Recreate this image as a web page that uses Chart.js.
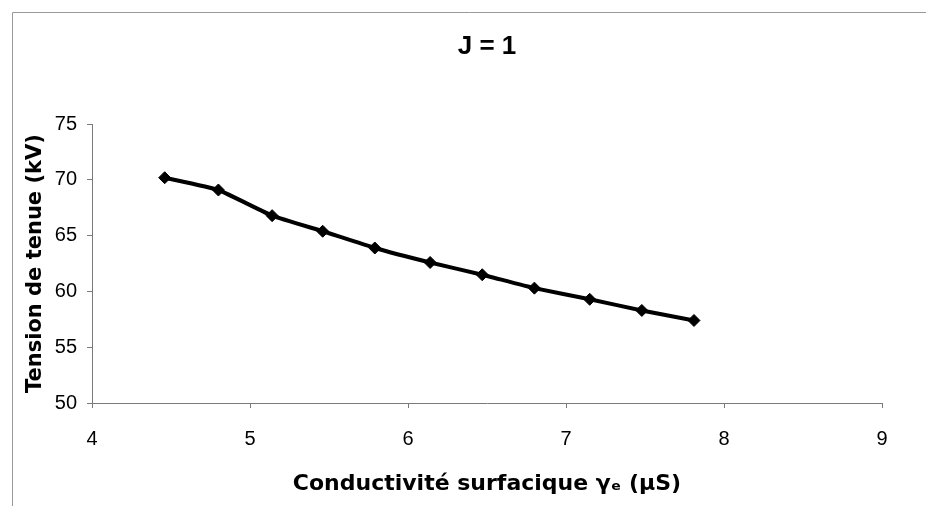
<!DOCTYPE html>
<html>
<head>
<meta charset="utf-8">
<script src="https://cdn.jsdelivr.net/npm/chart.js@4/dist/chart.umd.min.js"></script>
<style>
  html, body { margin: 0; padding: 0; background: #ffffff; }
  canvas { display: block; }
</style>
</head>
<body>
<canvas id="c" width="926" height="506"></canvas>
<script>
// ---- data ----
const chartTitle = "J = 1";
const xTitle = "Conductivité surfacique γₑ (µS)";
const yTitle = "Tension de tenue (kV)";
const conductivity = [4.46, 4.80, 5.14, 5.46, 5.79, 6.14, 6.47, 6.80, 7.15, 7.48, 7.81];
const tension      = [70.2, 69.1, 66.8, 65.4, 63.9, 62.6, 61.5, 60.3, 59.3, 58.3, 57.4];
const xTicks = [4, 5, 6, 7, 8, 9];
const yTicks = [50, 55, 60, 65, 70, 75];

const points = conductivity.map((x, i) => ({ x: x, y: tension[i] }));

const framePlugin = {
  id: 'frame',
  beforeDraw(chart) {
    const ctx = chart.ctx;
    ctx.save();
    ctx.fillStyle = '#ffffff';
    ctx.fillRect(0, 0, chart.width, chart.height);
    ctx.strokeStyle = '#9a9a9a';
    ctx.lineWidth = 1;
    ctx.beginPath();
    ctx.moveTo(12.5, chart.height);
    ctx.lineTo(12.5, 12.5);
    ctx.lineTo(chart.width, 12.5);
    ctx.stroke();
    ctx.restore();
  }
};

new Chart(document.getElementById('c'), {
  type: 'line',
  data: {
    datasets: [{
      label: 'Tension de tenue',
      data: points,
      borderColor: '#000000',
      backgroundColor: '#000000',
      borderWidth: 4,
      pointStyle: 'rectRot',
      pointRadius: 6,
      pointBorderWidth: 1,
      pointBackgroundColor: '#000000',
      pointBorderColor: '#000000',
      tension: 0.12,
      fill: false
    }]
  },
  options: {
    responsive: false,
    devicePixelRatio: 1,
    animation: false,
    layout: { padding: { left: 0, right: 44, top: 0, bottom: 0 } },
    plugins: {
      legend: { display: false },
      tooltip: { enabled: false },
      title: {
        display: true,
        text: chartTitle,
        fullSize: false,
        color: '#000000',
        font: { family: '"Liberation Sans", Arial, sans-serif', size: 26, weight: 'bold', lineHeight: 1.2 },
        padding: { top: 31, bottom: 62 }
      }
    },
    scales: {
      x: {
        type: 'linear',
        min: xTicks[0],
        max: xTicks[xTicks.length - 1],
        afterFit: (s) => { s.height = 103; },
        afterBuildTicks: (s) => { s.ticks = xTicks.map(v => ({ value: v })); },
        border: { display: true, color: '#7a7a7a', width: 1 },
        grid: { drawOnChartArea: false, drawTicks: true, tickLength: 5, color: '#7a7a7a' },
        ticks: {
          color: '#000000',
          padding: 19,
          maxRotation: 0,
          font: { family: '"Liberation Sans", Arial, sans-serif', size: 20 }
        },
        title: {
          display: true,
          text: xTitle,
          color: '#000000',
          font: { family: '"DejaVu Sans", sans-serif', size: 22, weight: 'bold', lineHeight: 1.2 },
          padding: { top: 0, bottom: 9 }
        }
      },
      y: {
        type: 'linear',
        min: yTicks[0],
        max: yTicks[yTicks.length - 1],
        afterFit: (s) => { s.width = 92; },
        afterBuildTicks: (s) => { s.ticks = yTicks.map(v => ({ value: v })); },
        border: { display: true, color: '#7a7a7a', width: 1 },
        grid: { drawOnChartArea: false, drawTicks: true, tickLength: 5, color: '#7a7a7a' },
        ticks: {
          color: '#000000',
          padding: 10,
          font: { family: '"Liberation Sans", Arial, sans-serif', size: 20 }
        },
        title: {
          display: true,
          text: yTitle,
          color: '#000000',
          font: { family: '"DejaVu Sans", sans-serif', size: 21, weight: 'bold', lineHeight: 1.2 },
          padding: { top: 23, bottom: 0 }
        }
      }
    }
  },
  plugins: [framePlugin]
});
</script>
</body>
</html>
